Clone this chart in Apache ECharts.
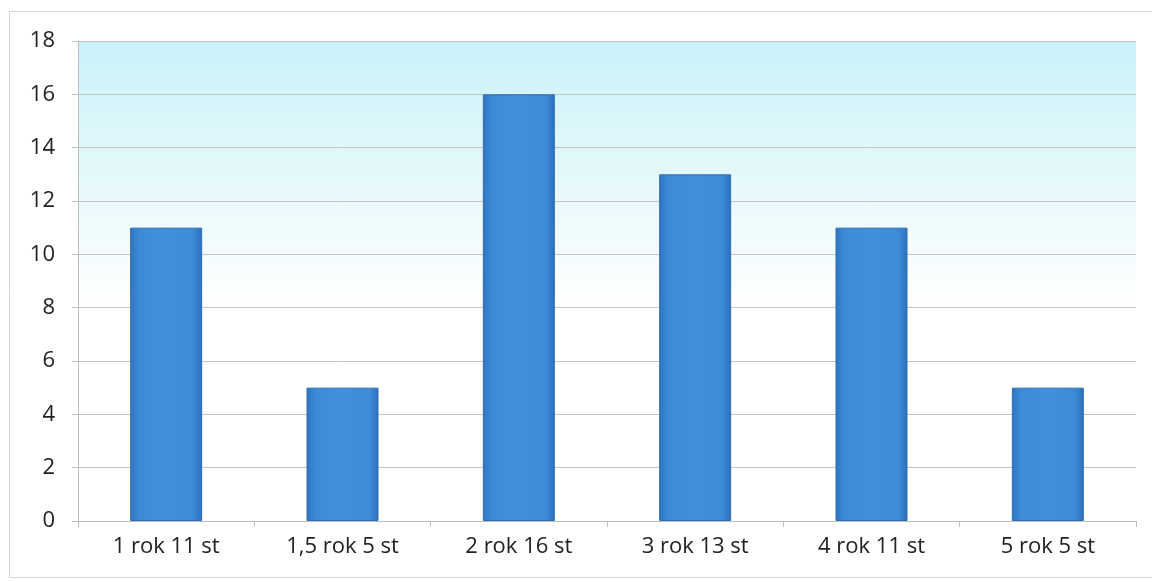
<!DOCTYPE html>
<html>
<head>
<meta charset="utf-8">
<style>
  html, body { margin: 0; padding: 0; background: #ffffff; }
  #chart { width: 1152px; height: 582px; }
</style>
<script src="https://cdn.jsdelivr.net/npm/echarts@6/dist/echarts.min.js"></script>
</head>
<body>
<div id="chart"></div>
<script>
// Number of students by length of study
const categories = ['1 rok 11 st', '1,5 rok 5 st', '2 rok 16 st', '3 rok 13 st', '4 rok 11 st', '5 rok 5 st'];
const values = [11, 5, 16, 13, 11, 5];
const yTicks = { min: 0, max: 18, step: 2 };

const chart = echarts.init(document.getElementById('chart'), null, { renderer: 'canvas' });

const barFill = new echarts.graphic.LinearGradient(0, 0, 1, 0, [
  { offset: 0, color: '#2f73c0' },
  { offset: 0.12, color: '#3d8ad6' },
  { offset: 0.5, color: '#428fdb' },
  { offset: 0.88, color: '#3d8ad6' },
  { offset: 1, color: '#2d6fba' }
]);

const labelFont = "'Open Sans', 'Noto Sans', sans-serif";

chart.setOption({
  animation: false,
  backgroundColor: '#ffffff',
  graphic: [
    {
      type: 'rect',
      shape: { x: 9.5, y: 11.5, width: 1160, height: 566 },
      style: { fill: 'none', stroke: '#d4d4d4', lineWidth: 1 },
      silent: true
    }
  ],
  grid: {
    left: 78, right: 16, top: 41, bottom: 61,
    show: true,
    borderWidth: 0,
    backgroundColor: new echarts.graphic.LinearGradient(0, 0, 0, 1, [
      { offset: 0, color: '#c9f2f9' },
      { offset: 0.25, color: '#e2f8fb' },
      { offset: 0.55, color: '#ffffff' },
      { offset: 1, color: '#ffffff' }
    ])
  },
  xAxis: {
    type: 'category',
    data: categories,
    axisLine: { show: true, lineStyle: { color: '#bdbdbd', width: 1 } },
    axisTick: { show: true, length: 6, lineStyle: { color: '#bdbdbd' } },
    axisLabel: {
      color: '#222222',
      fontFamily: labelFont,
      fontSize: 22,
      margin: 15
    },
    splitLine: { show: false }
  },
  yAxis: {
    type: 'value',
    min: yTicks.min,
    max: yTicks.max,
    interval: yTicks.step,
    axisLine: { show: true, lineStyle: { color: '#bdbdbd', width: 1 } },
    axisTick: { show: true, length: 6, lineStyle: { color: '#bdbdbd' } },
    axisLabel: {
      color: '#222222',
      fontFamily: labelFont,
      fontSize: 22,
      margin: 23
    },
    splitLine: { show: true, lineStyle: { color: '#c4c4c4', width: 1 } }
  },
  series: [
    {
      type: 'bar',
      data: values,
      barWidth: 72,
      itemStyle: {
        color: barFill,
        borderColor: '#2e6cb3',
        borderWidth: 1
      }
    }
  ]
});
</script>
</body>
</html>
